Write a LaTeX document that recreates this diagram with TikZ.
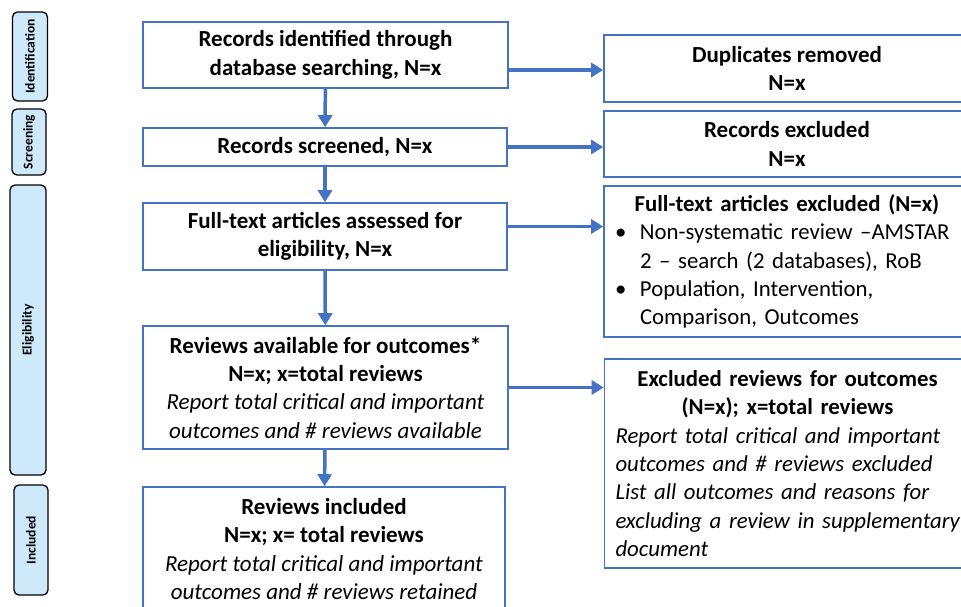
\documentclass[tikz,border=0pt]{standalone}
\usepackage{fontspec}
\setmainfont{Carlito}
\usepackage{tikz}
\usetikzlibrary{arrows.meta}
\definecolor{flowblue}{RGB}{68,114,196}
\definecolor{stagefill}{RGB}{205,233,250}

\begin{document}
\begin{tikzpicture}[x=1pt, y=-1pt,
 stagebox/.style={draw=black, line width=1.3pt, fill=stagefill, rounded corners=5pt, rotate=90, inner sep=0pt, font=\fontsize{13.5}{15}\selectfont\bfseries},
 flowbox/.style={draw=flowblue, line width=1.6pt, fill=white, inner sep=0pt, align=center, font=\fontsize{23}{28.3}\selectfont},
 listbox/.style={draw=flowblue, line width=1.6pt, fill=white, inner xsep=11pt, inner ysep=0pt, text width=344pt, align=left, font=\fontsize{22.8}{28.3}\selectfont},
 flowarrow/.style={draw=flowblue, line width=3.5pt, -{Triangle[width=14pt,length=12pt]}}]
 \useasboundingbox (0,0) rectangle (961,606);
 \clip (0,0) rectangle (961,606);

 \node[stagebox, minimum width=89pt, minimum height=35pt] (ident) at (30,56.5) {Identification};
 \node[stagebox, minimum width=66pt, minimum height=34pt] (screen) at (29,142) {Screening};
 \node[stagebox, minimum width=290pt, minimum height=36pt] (elig) at (28,330) {Eligibility};
 \node[stagebox, minimum width=110pt, minimum height=34pt] (incl) at (31,540) {Included};

 \node[flowbox, minimum width=365pt, minimum height=66pt] (ident rec) at (325.5,55) {\textbf{Records identified through}\\\textbf{database searching, N=x}};
 \node[flowbox, minimum width=364pt, minimum height=38pt] (screen rec) at (325,147) {\textbf{Records screened, N=x}};
 \node[flowbox, minimum width=364pt, minimum height=67pt] (full text) at (325,236.5) {\textbf{Full-text articles assessed for}\\\textbf{eligibility, N=x}};
 \node[flowbox, minimum width=365pt, minimum height=123pt] (avail) at (325.5,387.5) {\textbf{Reviews available for outcomes*}\\\textbf{N=x; x=total reviews}\\\textit{Report total critical and important}\\\textit{outcomes and \# reviews available}};
 \node[flowbox, minimum width=362pt, minimum height=124pt] (incl rev) at (324,549) {\textbf{Reviews included}\\\textbf{N=x; x= total reviews}\\\textit{Report total critical and important}\\\textit{outcomes and \# reviews retained}};

 \node[flowbox, minimum width=366pt, minimum height=67pt] (dupl) at (787,68.5) {\textbf{Duplicates removed}\\\textbf{N=x}};
 \node[flowbox, minimum width=366pt, minimum height=66pt] (rec excl) at (787,144) {\textbf{Records excluded}\\\textbf{N=x}};
 \node[listbox, minimum height=151pt] (full excl) at (787,261.5) {\makebox[\linewidth]{\textbf{Full-text articles excluded (N=x)}}\\\makebox[25pt][l]{\textbullet}\mbox{Non-systematic review –AMSTAR}\\\hspace*{25pt}2 – search (2 databases), RoB\\\makebox[25pt][l]{\textbullet}Population, Intervention,\\\hspace*{25pt}Comparison, Outcomes};
 \node[listbox, minimum height=209pt] (rev excl) at (787.5,463.5) {\makebox[\linewidth]{\textbf{Excluded reviews for outcomes}}\\\makebox[\linewidth]{\textbf{(N=x); x=total reviews}}\\\textit{Report total critical and important}\\\textit{outcomes and \# reviews excluded}\\\textit{List all outcomes and reasons for}\\\textit{\mbox{excluding a review in supplementary}}\\\textit{document}};

 \draw[flowarrow] (ident rec) -- (screen rec);
 \draw[flowarrow] (screen rec) -- (full text);
 \draw[flowarrow] (full text) -- (avail);
 \draw[flowarrow] (avail) -- (incl rev);
 \draw[flowarrow] ([yshift=-15pt]ident rec.east) -- ([yshift=-15pt]ident rec.east -| dupl.west);
 \draw[flowarrow] (screen rec.east) -- (screen rec.east -| rec excl.west);
 \draw[flowarrow] ([yshift=10pt]full text.east) -- ([yshift=10pt]full text.east -| full excl.west);
 \draw[flowarrow] (avail.east) -- (avail.east -| rev excl.west);
\end{tikzpicture}
\end{document}
